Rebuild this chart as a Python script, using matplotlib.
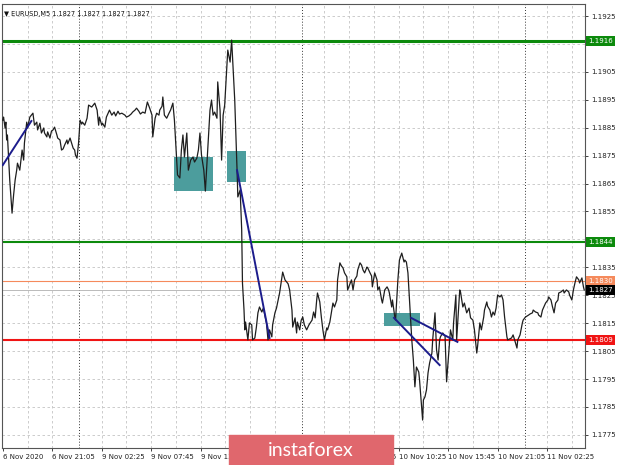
import matplotlib
matplotlib.use("Agg")
import matplotlib.pyplot as plt
import matplotlib.transforms as mtransforms
from matplotlib.patches import Rectangle

# EURUSD M5 close prices (bar number, price)
bars = [0, 1, 3, 4, 5, 6, 9, 12, 14, 16, 18, 19, 22, 25, 27, 28, 31, 32, 35, 39,
        41, 44, 45, 48, 50, 53, 54, 57, 58, 61, 63, 65, 67, 70, 71, 74, 76, 78, 80, 83,
        84, 87, 89, 91, 93, 94, 96, 97, 98, 100, 102, 103, 106, 109, 111, 115, 119, 122, 124, 125,
        128, 129, 132, 134, 138, 141, 144, 146, 149, 151, 154, 158, 160, 163, 166, 168, 171, 173, 176, 178,
        181, 184, 187, 190, 193, 194, 197, 199, 202, 203, 206, 207, 209, 212, 215, 217, 220, 222, 226, 229,
        231, 233, 235, 238, 240, 243, 246, 248, 251, 253, 255, 257, 260, 262, 265, 268, 270, 272, 274, 277,
        278, 281, 283, 285, 287, 290, 291, 294, 296, 298, 300, 303, 304, 307, 309, 310, 312, 313, 314, 317,
        319, 322, 323, 326, 328, 330, 332, 335, 337, 341, 343, 345, 348, 349, 352, 354, 358, 362, 365, 367,
        369, 371, 374, 375, 378, 380, 381, 384, 386, 388, 390, 393, 396, 400, 402, 404, 406, 407, 410, 412,
        414, 416, 419, 420, 423, 425, 427, 429, 432, 433, 436, 438, 440, 442, 445, 446, 449, 451, 453, 455,
        458, 459, 462, 464, 466, 468, 471, 472, 475, 477, 478, 481, 484, 485, 487, 490, 491, 494, 497, 499,
        500, 503, 504, 507, 508, 511, 513, 516, 519, 520, 522, 524, 526, 528, 529, 531, 533, 535, 538, 539,
        542, 543, 544, 546, 548, 550, 552, 555, 556, 559, 561, 563, 565, 566, 569, 572, 574, 577, 579, 582,
        583, 586, 587, 591, 592, 595, 597, 600, 603, 605, 608, 610, 613, 614, 617, 619, 622, 623, 626, 627,
        630, 632, 634, 636, 638, 640, 643, 645, 647, 649, 652, 653, 656, 658, 660, 662, 665, 666, 669, 672,
        673, 676, 680, 682, 685, 686, 689, 692, 693, 696, 698, 702, 705, 706, 709, 711, 713, 715, 718, 719,
        722, 725, 726, 729, 732, 733, 736, 738, 740, 742, 745, 746, 749, 751, 752]
close = [1.18877, 1.18888, 1.18849, 1.18870, 1.18806, 1.18824, 1.18663, 1.18544, 1.18609, 1.18663,
         1.18698, 1.18723, 1.18698, 1.18770, 1.18734, 1.18795, 1.18870, 1.18849, 1.18888, 1.18902,
         1.18859, 1.18870, 1.18842, 1.18866, 1.18831, 1.18849, 1.18831, 1.18817, 1.18835, 1.18813,
         1.18838, 1.18842, 1.18852, 1.18824, 1.18813, 1.18806, 1.18770, 1.18774, 1.18788, 1.18806,
         1.18792, 1.18813, 1.18795, 1.18777, 1.18770, 1.18752, 1.18741, 1.18770, 1.18795, 1.18877,
         1.18863, 1.18870, 1.18859, 1.18884, 1.18931, 1.18924, 1.18938, 1.18913, 1.18859, 1.18888,
         1.18859, 1.18866, 1.18852, 1.18888, 1.18913, 1.18895, 1.18906, 1.18892, 1.18909, 1.18899,
         1.18902, 1.18895, 1.18888, 1.18892, 1.18899, 1.18906, 1.18913, 1.18920, 1.18909, 1.18899,
         1.18906, 1.18902, 1.18942, 1.18920, 1.18895, 1.18817, 1.18884, 1.18902, 1.18895, 1.18913,
         1.18927, 1.18960, 1.18895, 1.18884, 1.18902, 1.18913, 1.18938, 1.18877, 1.18681, 1.18670,
         1.18770, 1.18824, 1.18745, 1.18831, 1.18698, 1.18734, 1.18745, 1.18727, 1.18741, 1.18770,
         1.18831, 1.18752, 1.18698, 1.18623, 1.18770, 1.18913, 1.18949, 1.18895, 1.18906, 1.18884,
         1.19014, 1.18913, 1.18734, 1.18895, 1.18931, 1.19074, 1.19128, 1.19085, 1.19164, 1.19056,
         1.18949, 1.18698, 1.18602, 1.18627, 1.18484, 1.18294, 1.18197, 1.18126, 1.18154, 1.18090,
         1.18151, 1.18144, 1.18090, 1.18097, 1.18136, 1.18187, 1.18208, 1.18190, 1.18204, 1.18151,
         1.18090, 1.18126, 1.18101, 1.18144, 1.18187, 1.18204, 1.18258, 1.18333, 1.18305, 1.18298,
         1.18291, 1.18269, 1.18197, 1.18136, 1.18169, 1.18115, 1.18154, 1.18126, 1.18161, 1.18172,
         1.18144, 1.18126, 1.18144, 1.18161, 1.18190, 1.18169, 1.18233, 1.18258, 1.18226, 1.18172,
         1.18126, 1.18090, 1.18133, 1.18126, 1.18154, 1.18187, 1.18222, 1.18208, 1.18233, 1.18305,
         1.18366, 1.18355, 1.18348, 1.18330, 1.18316, 1.18269, 1.18291, 1.18305, 1.18269, 1.18305,
         1.18319, 1.18340, 1.18366, 1.18358, 1.18340, 1.18330, 1.18351, 1.18348, 1.18330, 1.18319,
         1.18280, 1.18330, 1.18305, 1.18269, 1.18280, 1.18233, 1.18222, 1.18269, 1.18280, 1.18269,
         1.18258, 1.18208, 1.18233, 1.18172, 1.18161, 1.18305, 1.18376, 1.18401, 1.18369, 1.18376,
         1.18369, 1.18330, 1.18233, 1.18136, 1.18090, 1.18018, 1.17922, 1.17993, 1.17975, 1.17947,
         1.17839, 1.17803, 1.17875, 1.17886, 1.17911, 1.17972, 1.18007, 1.18043, 1.18090, 1.18187,
         1.18054, 1.18018, 1.18090, 1.18101, 1.18115, 1.18104, 1.17940, 1.18054, 1.18126, 1.18090,
         1.18151, 1.18251, 1.18090, 1.18269, 1.18262, 1.18208, 1.18222, 1.18187, 1.18204, 1.18169,
         1.18161, 1.18126, 1.18043, 1.18065, 1.18151, 1.18126, 1.18172, 1.18197, 1.18226, 1.18211,
         1.18197, 1.18172, 1.18190, 1.18179, 1.18204, 1.18251, 1.18244, 1.18251, 1.18233, 1.18172,
         1.18101, 1.18090, 1.18094, 1.18097, 1.18108, 1.18090, 1.18061, 1.18090, 1.18108, 1.18151,
         1.18161, 1.18172, 1.18179, 1.18183, 1.18187, 1.18197, 1.18190, 1.18187, 1.18179, 1.18172,
         1.18197, 1.18222, 1.18233, 1.18244, 1.18233, 1.18208, 1.18187, 1.18222, 1.18233, 1.18258,
         1.18262, 1.18269, 1.18258, 1.18269, 1.18262, 1.18251, 1.18233, 1.18269, 1.18294, 1.18316,
         1.18305, 1.18294, 1.18312, 1.18280, 1.18269]

# horizontal levels
levels = [1.1916, 1.1844, 1.1809]
level_colors = ['#0c8a0c', '#0c8a0c', '#f01414']
level_widths = [2.2, 1.5, 1.5]
ask_level = 1.1830
bid_level = 1.1827

# trend lines drawn on the chart: (bar0, price0, bar1, price1)
trend_lines = [(0, 1.18716, 37, 1.18874),
               (303, 1.18698, 345, 1.18097),
               (506, 1.18169, 565, 1.18000),
               (528, 1.18169, 588, 1.18083)]

# teal zones: (bar0, bar1, price_low, price_high)
zones = [(222, 272, 1.18623, 1.18745),
         (290, 314, 1.18656, 1.18767),
         (493, 539, 1.18140, 1.18187)]

time_labels = ["6 Nov 2020", "6 Nov 21:05", "9 Nov 02:25", "9 Nov 07:45", "9 Nov 13:05",
               "9 Nov 18:25", "9 Nov 23:45", "10 Nov 05:05", "10 Nov 10:25", "10 Nov 15:45",
               "10 Nov 21:05", "11 Nov 02:25"]
bars_per_label = 64
day_breaks = [99, 387, 675]
price_ticks = [1.1775 + 0.001 * i for i in range(16)]

fig = plt.figure(figsize=(6.2, 4.65), dpi=100)
ax = fig.add_axes([2 / 620, 17 / 465, 583 / 620, 444 / 465])
ax.set_xlim(-1, 753)
ax.set_ylim(1.17703, 1.19293)

# grid
for p in price_ticks:
    ax.axhline(p, color='#c4c4c4', lw=0.6, ls=(0, (3, 3)), zorder=0)
for b in range(32, 753, 32):
    if min(abs(b - d) for d in day_breaks) > 6:
        ax.axvline(b, color='#c4c4c4', lw=0.6, ls=(0, (3, 3)), zorder=0)
for d in day_breaks:
    ax.axvline(d, color='#333333', lw=0.7, ls=(0, (1, 2)), zorder=0)

for b0, b1, lo, hi in zones:
    ax.add_patch(Rectangle((b0, lo), b1 - b0, hi - lo, color='#4c9d9d', lw=0, zorder=1))

for p, c, w in zip(levels, level_colors, level_widths):
    ax.axhline(p, color=c, lw=w, zorder=2)
ax.axhline(ask_level, color='#f58a5c', lw=0.8, zorder=2)
ax.axhline(bid_level, color='#b0b0b0', lw=0.6, zorder=2)

ax.plot(bars, close, color='#1e1e1e', lw=0.9, zorder=3)

for b0, p0, b1, p1 in trend_lines:
    ax.plot([b0, b1], [p0, p1], color='#1c1c8c', lw=1.4, zorder=4)

# axes styling like the terminal
ax.yaxis.tick_right()
ax.set_yticks(price_ticks)
ax.set_yticklabels(['%.4f' % p for p in price_ticks])
ax.set_xticks([i * bars_per_label for i in range(len(time_labels))])
ax.set_xticklabels(time_labels, ha='left')
ax.tick_params(axis='both', labelsize=5, colors='#222222', length=2.5, width=0.6, pad=2)
for s in ax.spines.values():
    s.set_color('#555555')
    s.set_linewidth(0.8)

# price boxes on the right
trans = mtransforms.blended_transform_factory(ax.transAxes, ax.transData)
boxes = [(levels[0], level_colors[0], 'white'), (levels[1], level_colors[1], 'white'),
         (ask_level, '#f58a5c', 'white'), (bid_level, 'black', 'white'),
         (levels[2], level_colors[2], 'white')]
for p, bg, fg in boxes:
    ax.text(1.006, p, '%.4f' % p, transform=trans, ha='left', va='center', fontsize=5,
            color=fg, bbox=dict(boxstyle='square,pad=0.3', fc=bg, ec='none'), zorder=10,
            clip_on=False)

ax.text(0.004, 0.985, '\u25bc EURUSD,M5 1.1827 1.1827 1.1827 1.1827', transform=ax.transAxes,
        ha='left', va='top', fontsize=4.7, color='#111111')

# watermark
fig.patches.append(Rectangle((229 / 620, 0), 164 / 620, 30 / 465, transform=fig.transFigure,
                             color='#e0676d', zorder=20))
fig.text(311 / 620, 15 / 465, 'instaforex', ha='center', va='center', color='white',
         fontsize=14, family='Lato', zorder=21)

fig.savefig('out.png', dpi=100, facecolor='white')
